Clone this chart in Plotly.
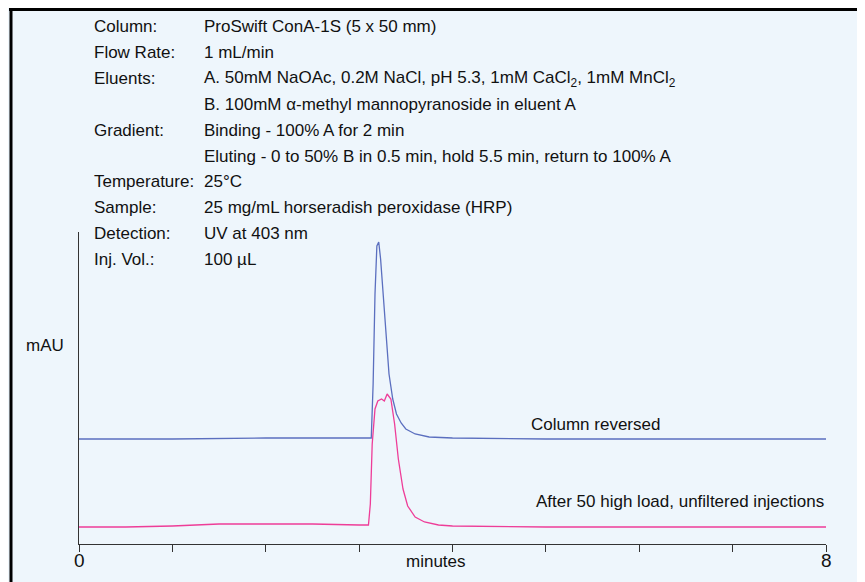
import plotly.graph_objects as go

# trace points (minutes, mAU on an arbitrary scale)
blue_t = [0, 1.0, 2.0, 3.0, 3.13, 3.15, 3.17, 3.19, 3.21, 3.23, 3.26, 3.29, 3.32, 3.36, 3.4, 3.45, 3.5, 3.6, 3.75, 4.0, 5.0, 6.0, 7.0, 8.0]
blue_y = [105, 105, 106, 106, 106, 160, 250, 298, 302, 285, 245, 205, 170, 145, 130, 121, 115, 110, 107, 106, 105, 105, 105, 105]
pink_t = [0, 0.5, 1.0, 1.5, 2.0, 2.5, 3.0, 3.1, 3.12, 3.14, 3.17, 3.2, 3.24, 3.27, 3.3, 3.34, 3.38, 3.42, 3.47, 3.52, 3.6, 3.7, 3.85, 4.0, 5.0, 6.0, 7.0, 8.0]
pink_y = [17, 17, 18, 20, 20, 20, 19, 19, 40, 100, 135, 143, 145, 143, 150, 145, 120, 85, 55, 38, 27, 22, 19, 18, 17, 17, 17, 17]

info_labels = ["Column:", "Flow Rate:", "Eluents:", "", "Gradient:", "", "Temperature:", "Sample:", "Detection:", "Inj. Vol.:"]
info_values = [
    "ProSwift ConA-1S (5 x 50 mm)",
    "1 mL/min",
    "A. 50mM NaOAc, 0.2M NaCl, pH 5.3, 1mM CaCl<sub>2</sub>, 1mM MnCl<sub>2</sub>",
    "B. 100mM α-methyl mannopyranoside in eluent A",
    "Binding - 100% A for 2 min",
    "Eluting - 0 to 50% B in 0.5 min, hold 5.5 min, return to 100% A",
    "25°C",
    "25 mg/mL horseradish peroxidase (HRP)",
    "UV at 403 nm",
    "100 µL",
]

OFF = 8  # the page body adds an 8px margin
W, H = 865 - OFF, 582 - OFF
L, R, T, B = 79 - OFF, 39, 232 - OFF, 38
pw, ph = W - L - R, H - T - B

def px(x):
    return (x - OFF - L) / pw

def py(y):
    return (H - B - (y - OFF)) / ph

fig = go.Figure()
fig.add_trace(go.Scatter(x=blue_t, y=blue_y, mode="lines", line=dict(color="#5b6fbf", width=1.3), hoverinfo="skip"))
fig.add_trace(go.Scatter(x=pink_t, y=pink_y, mode="lines", line=dict(color="#ee3d98", width=1.3), hoverinfo="skip"))

fam = "Liberation Sans, Arial"
font = dict(family=fam, size=17, color="#111")
ann = []
for i, (lab, val) in enumerate(zip(info_labels, info_values)):
    yy = py(27 + i * 25.8)
    if lab:
        ann.append(dict(x=px(92), y=yy, xref="paper", yref="paper", text=lab, showarrow=False, xanchor="left", yanchor="middle", font=font))
    ann.append(dict(x=px(202), y=yy, xref="paper", yref="paper", text=val, showarrow=False, xanchor="left", yanchor="middle", font=font))

ann += [
    dict(x=px(662), y=py(424), xref="paper", yref="paper", text="Column reversed", showarrow=False, xanchor="right", font=font),
    dict(x=px(826), y=py(513), xref="paper", yref="paper", text="After 50 high load, unfiltered injections", showarrow=False, xanchor="right", font=font),
    dict(x=px(24), y=py(345), xref="paper", yref="paper", text="mAU", showarrow=False, xanchor="left", font=font),
    dict(x=px(436), y=py(573), xref="paper", yref="paper", text="minutes", showarrow=False, font=font),
    dict(x=px(79), y=py(560), xref="paper", yref="paper", text="0", showarrow=False, xanchor="center", yanchor="middle", font=dict(family=fam, size=19, color="#111")),
    dict(x=px(826), y=py(560), xref="paper", yref="paper", text="8", showarrow=False, xanchor="center", yanchor="middle", font=dict(family=fam, size=19, color="#111")),
]

fig.update_layout(
    width=W, height=H,
    margin=dict(l=L, r=R, t=T, b=B),
    paper_bgcolor="#eef6fc", plot_bgcolor="#eef6fc",
    showlegend=False,
    annotations=ann,
    shapes=[
        dict(type="line", xref="paper", yref="paper", x0=px(11), x1=px(11), y0=py(8), y1=py(600), line=dict(color="black", width=3)),
        dict(type="line", xref="paper", yref="paper", x0=px(9), x1=px(863), y0=py(9.5), y1=py(9.5), line=dict(color="black", width=3)),
        dict(type="line", xref="paper", yref="paper", x0=px(862), x1=px(862), y0=py(8), y1=py(600), line=dict(color="black", width=3)),
    ],
    xaxis=dict(range=[0, 8], tickvals=list(range(9)), ticks="outside", ticklen=7, tickcolor="#333",
               showticklabels=False, showgrid=False, zeroline=False, showline=True, linecolor="#333", linewidth=1),
    yaxis=dict(range=[0, 312], showticklabels=False, showgrid=False, zeroline=False, showline=True, linecolor="#333", linewidth=1),
)

fig.write_html("out.html")
